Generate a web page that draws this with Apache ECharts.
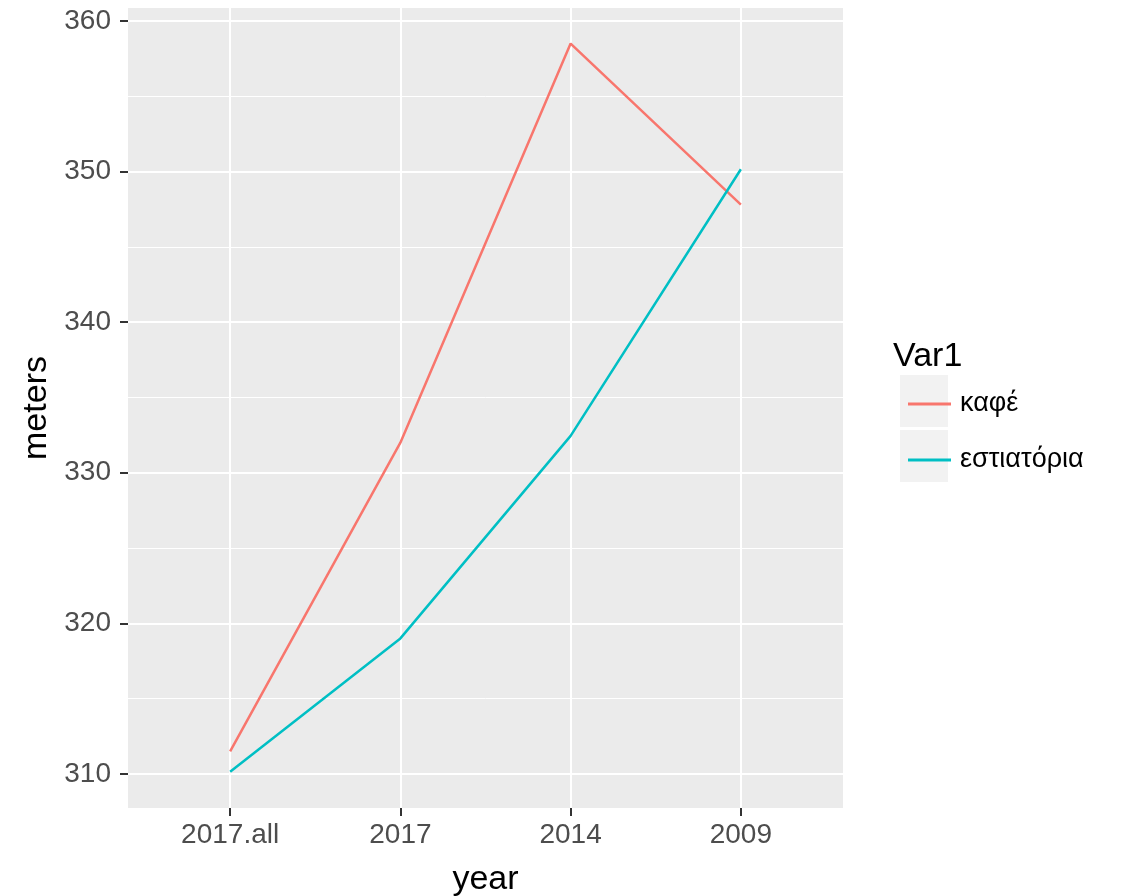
<!DOCTYPE html>
<html>
<head>
<meta charset="utf-8">
<script src="https://cdn.jsdelivr.net/npm/echarts@6/dist/echarts.min.js"></script>
<style>html,body{margin:0;padding:0;background:#fff}#c{width:1126px;height:896px}</style>
</head>
<body>
<div id="c"></div>
<script>
const categories = ['2017.all', '2017', '2014', '2009'];
const seriesNames = ['καφέ', 'εστιατόρια'];
const kafe = [311.5, 332.0, 358.5, 347.8];
const estiatoria = [310.15, 319.0, 332.45, 350.15];
const yMajor = [310, 320, 330, 340, 350, 360];
const yMinor = [315, 325, 335, 345, 355];
const colors = ['#F8766D', '#00BFC4'];

const FONT = '"Liberation Sans", Arial, sans-serif';
const xIdx = categories.map((c, i) => i);

const gridLines = [];
yMinor.forEach(v => gridLines.push({ yAxis: v, lineStyle: { width: 1 } }));
yMajor.forEach(v => gridLines.push({ yAxis: v, lineStyle: { width: 2 } }));
xIdx.forEach(v => gridLines.push({ xAxis: v, lineStyle: { width: 2 } }));

const chart = echarts.init(document.getElementById('c'), null, { renderer: 'canvas' });
chart.setOption({
  animation: false,
  textStyle: { fontFamily: FONT },
  grid: { left: 128, right: 283, top: 8, bottom: 88, show: true, backgroundColor: '#EBEBEB', borderWidth: 0, containLabel: false, outerBoundsMode: 'none' },
  xAxis: {
    type: 'value', min: -0.6, max: 3.6,
    axisLine: { show: false, onZero: false },
    splitLine: { show: false },
    axisTick: { show: true, customValues: xIdx, length: 8, lineStyle: { color: '#333333', width: 2 } },
    axisLabel: { customValues: xIdx, formatter: v => categories[Math.round(v)], fontSize: 28, color: '#4D4D4D', margin: 13, fontFamily: FONT },
    name: 'year', nameLocation: 'middle', nameGap: 55,
    nameTextStyle: { fontSize: 34, color: '#000', fontFamily: FONT }
  },
  yAxis: {
    type: 'value', min: 307.74, max: 360.86,
    axisLine: { show: false, onZero: false },
    splitLine: { show: false },
    axisTick: { show: true, customValues: yMajor, length: 8, lineStyle: { color: '#333333', width: 2 } },
    axisLabel: { customValues: yMajor, fontSize: 28, color: '#4D4D4D', margin: 17, fontFamily: FONT },
    name: 'meters', nameLocation: 'middle', nameGap: 74, nameRotate: 90,
    nameTextStyle: { fontSize: 34, color: '#000', fontFamily: FONT }
  },
  legend: {
    orient: 'vertical', left: 903, top: 385,
    itemWidth: 43, itemHeight: 3, itemGap: 28, icon: 'rect',
    data: seriesNames,
    textStyle: { fontSize: 27, color: '#000', fontFamily: FONT, lineHeight: 28, padding: [0, 0, 0, 4] }
  },
  graphic: [
    { type: 'rect', left: 900, top: 375, shape: { width: 48, height: 52 }, style: { fill: '#F2F2F2' }, z: 0 },
    { type: 'rect', left: 900, top: 430, shape: { width: 48, height: 52 }, style: { fill: '#F2F2F2' }, z: 0 },
    { type: 'text', left: 893, top: 340, style: { text: 'Var1', fontSize: 34, fill: '#000', fontFamily: FONT }, z: 5 }
  ],
  series: [
    {
      type: 'line', name: '__grid', data: [], silent: true, z: 0,
      markLine: { z: 0, silent: true, symbol: 'none', label: { show: false }, lineStyle: { color: '#FFFFFF', type: 'solid' }, data: gridLines, animation: false }
    },
    {
      type: 'line', name: seriesNames[0], data: xIdx.map(i => [i, kafe[i]]),
      showSymbol: false, symbol: 'none', z: 3, color: colors[0], lineStyle: { width: 2.5, color: colors[0] }
    },
    {
      type: 'line', name: seriesNames[1], data: xIdx.map(i => [i, estiatoria[i]]),
      showSymbol: false, symbol: 'none', z: 3, color: colors[1], lineStyle: { width: 2.5, color: colors[1] }
    }
  ]
});
</script>
</body>
</html>
